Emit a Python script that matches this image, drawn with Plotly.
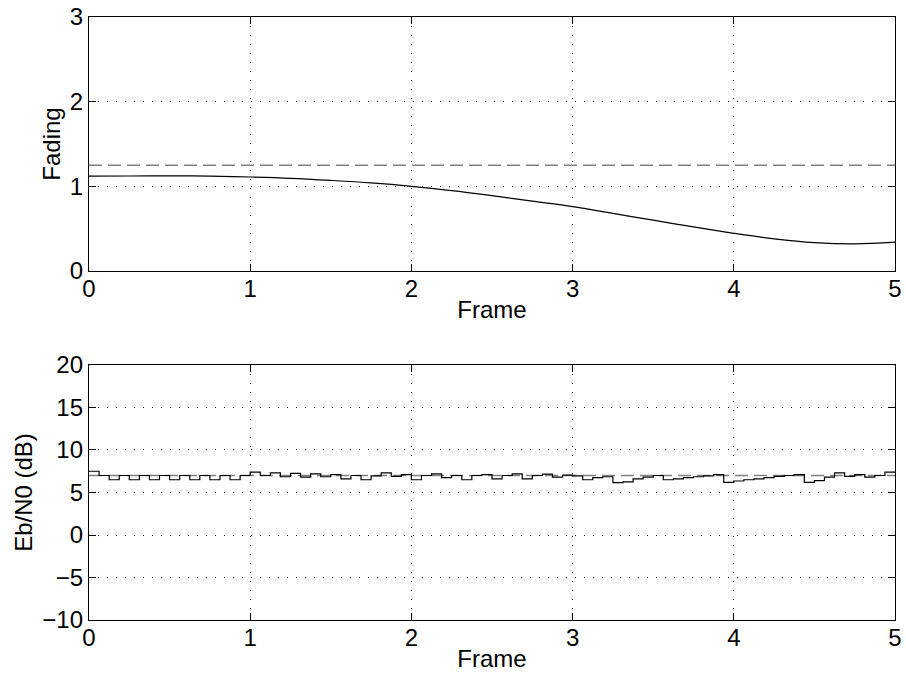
import plotly.graph_objects as go

# ---- data ----
fade_x = [0, 0.25, 0.5, 0.75, 1.0, 1.25, 1.5, 1.75, 2.0, 2.25, 2.5, 2.75, 3.0,
          3.25, 3.5, 3.75, 4.0, 4.25, 4.5, 4.75, 5.0]
fade_y = [1.12, 1.122, 1.124, 1.12, 1.11, 1.095, 1.07, 1.04, 1.0, 0.95, 0.89, 0.825, 0.76,
          0.68, 0.6, 0.52, 0.445, 0.38, 0.335, 0.32, 0.34]
fade_threshold = 1.25

steps_per_frame = 16
ebn0_steps = [7.5, 7.0, 6.5, 7.0, 6.5, 7.0, 6.5, 7.0, 6.5, 7.0, 6.5, 7.0, 6.5, 7.0, 6.5, 7.0,
              7.4, 7.0, 7.3, 6.85, 7.25, 6.8, 7.2, 6.85, 7.1, 6.6, 7.0, 6.5, 6.95, 7.3, 6.9, 7.1,
              6.5, 7.0, 7.2, 6.75, 7.0, 6.5, 7.0, 7.1, 6.6, 7.0, 7.2, 6.6, 7.0, 7.15, 6.8, 7.05,
              6.95, 6.5, 6.75, 6.85, 6.15, 6.25, 6.6, 6.8, 7.0, 6.5, 6.6, 6.75, 6.85, 6.95, 7.1, 6.2,
              6.35, 6.5, 6.6, 6.75, 6.9, 7.0, 7.1, 6.2, 6.4, 6.8, 7.3, 6.9, 7.1, 6.8, 7.0, 7.4]
ebn0_target = 7.0

x_range = [0, 5]
top_yticks = [0, 1, 2, 3]
bot_yticks = [-10, -5, 0, 5, 10, 15, 20]
xticks = [0, 1, 2, 3, 4, 5]

step_x = [k / steps_per_frame for k in range(len(ebn0_steps))] + [x_range[1]]
step_y = ebn0_steps + [ebn0_steps[-1]]

FONT = "Liberation Sans, Arial, Helvetica, sans-serif"
GRAY = "#808080"

fig = go.Figure()
fig.add_trace(go.Scatter(x=fade_x, y=fade_y, mode="lines", line=dict(color="black", width=1.2, shape="spline"),
                         xaxis="x", yaxis="y", showlegend=False))
fig.add_trace(go.Scatter(x=x_range, y=[fade_threshold] * 2, mode="lines",
                         line=dict(color=GRAY, width=1.5, dash="13px,6px"),
                         xaxis="x", yaxis="y", showlegend=False))
fig.add_trace(go.Scatter(x=x_range, y=[ebn0_target] * 2, mode="lines",
                         line=dict(color=GRAY, width=1.5, dash="13px,6px"),
                         xaxis="x2", yaxis="y2", showlegend=False))
fig.add_trace(go.Scatter(x=step_x, y=step_y, mode="lines", line=dict(color="black", width=1.2, shape="hv"),
                         xaxis="x2", yaxis="y2", showlegend=False))

axis_common = dict(showline=True, linecolor="black", linewidth=1.3, mirror="ticks",
                   ticks="inside", ticklen=7, tickcolor="black", showgrid=True,
                   gridcolor="black", gridwidth=1, griddash="1px,8px", zeroline=False,
                   automargin=False, ticklabeloverflow="allow",
                   tickfont=dict(family=FONT, size=24, color="black"))

TITLE_FONT = dict(family=FONT, size=24, color="black")

fig.update_layout(
    width=906, height=686,
    paper_bgcolor="white", plot_bgcolor="white",
    margin=dict(l=89, r=11, t=17, b=66),
    font=dict(family=FONT, color="black"),
    hovermode=False,
    xaxis=dict(domain=[0, 1], anchor="y", range=x_range, tickvals=xticks, ticklabelstandoff=-4,
               title=dict(text="Frame", font=TITLE_FONT, standoff=0), **axis_common),
    yaxis=dict(domain=[0.5788, 1], anchor="x", range=[0, 3], tickvals=top_yticks,
               title=dict(text="Fading", font=TITLE_FONT, standoff=2), **axis_common),
    xaxis2=dict(domain=[0, 1], anchor="y2", range=x_range, tickvals=xticks, ticklabelstandoff=-4,
                title=dict(text="Frame", font=TITLE_FONT, standoff=0), **axis_common),
    yaxis2=dict(domain=[0, 0.4229], anchor="x2", range=[-10, 20], tickvals=bot_yticks,
                title=dict(text="Eb/N0 (dB)", font=TITLE_FONT, standoff=2), **axis_common),
)

fig.write_html("out.html",
               config={"displayModeBar": False},
               post_script="document.body.style.margin='0';document.body.style.overflow='hidden';")
